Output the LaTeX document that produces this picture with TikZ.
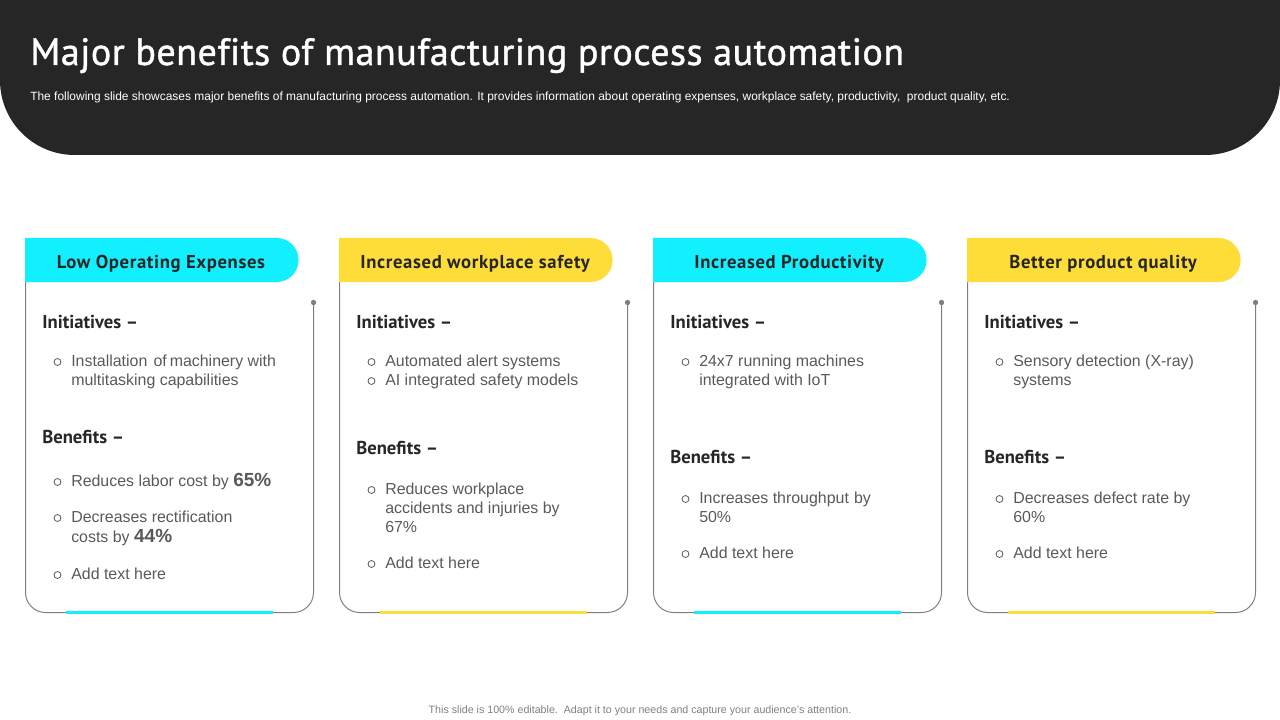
\documentclass[tikz,border=0pt]{standalone}
\usepackage{fontspec}
\setmainfont{Liberation Sans}
\newfontfamily\din{PT Sans}
\newfontfamily\dinh[LetterSpace=3.5]{PT Sans}
\newfontfamily\dinsp[LetterSpace=1.4,FakeBold=1.2,Ligatures=NoCommon]{PT Sans}
\definecolor{dark}{HTML}{262626}
\definecolor{cy}{HTML}{12F0FF}
\definecolor{yl}{HTML}{FFDD38}
\definecolor{bodyc}{HTML}{595959}
\definecolor{linec}{HTML}{7F7F7F}
\tikzset{
 x=0.75pt,y=-0.75pt,
 headtext/.style={font=\dinh\bfseries\fontsize{14}{16}\selectfont,text=dark,inner sep=0},
 subhead/.style={font=\din\bfseries\fontsize{14}{16}\selectfont,text=dark,anchor=base west,inner sep=0},
 item/.style={font=\fontsize{11.95}{14.25}\selectfont,text=bodyc,anchor=north west,inner sep=0,align=left},
 bullet/.style={circle,draw=bodyc,line width=0.6pt,inner sep=0,minimum size=5.2pt},
 outline/.style={draw=linec,line width=0.75pt},
}
% #1 name, #2 x of left edge, #3 colour, #4 title
\newcommand{\card}[4]{%
  \draw[outline] (#2+288.5,302) [rounded corners=15pt] -- (#2+288.5,612.5) -- (#2+0.5,612.5) [sharp corners] -- (#2+0.5,282);
  \fill[linec] (#2+288.5,302.5) circle[radius=2pt];
  \fill[#3] (#2+41,610.7) rectangle (#2+248,614);
  \fill[#3] (#2,238) [rounded corners=16.5pt] -- (#2+273.6,238) -- (#2+273.6,282) [sharp corners] -- (#2,282) -- cycle;
  \node[headtext] (#1h) at (#2+136,263.5) {#4};
}
% #1 name, #2 card x, #3 y of text top, #4 text
\newcommand{\itm}[4]{%
  \node[bullet] (#1b) at (#2+32.5,#3+11) {};
  \node[item] (#1) at (#2+46,#3+3.5) {#4};
}
\newcommand{\bnum}[1]{\smash{\bfseries\fontsize{14.25}{14.25}\selectfont #1}}
\begin{document}
\begin{tikzpicture}
\useasboundingbox (0,0) rectangle (1280,720);
\fill[dark] (0,0) -- (1280,0) [rounded corners=56pt] -- (1280,155) -- (0,155) [sharp corners] -- cycle;
\node[anchor=base west,inner sep=0,text=white,font=\dinsp\fontsize{28.5}{32}\selectfont] (title) at (30,65) {Major benefits of manufacturing process automation};
\node[anchor=base west,inner sep=0,text=white,font=\fontsize{8.97}{11}\selectfont] (sub) at (30,100.5) {The following slide showcases major benefits of manufacturing process automation. It provides information about operating expenses, workplace safety, productivity,\ \ product quality, etc.};
\node[anchor=base,inner sep=0,text=linec,font=\fontsize{8}{9}\selectfont] (foot) at (640,713) {This slide is 100\% editable.\ \ Adapt it to your needs and capture your audience’s attention.};

\card{a}{25}{cy}{Low Operating Expenses}
\card{b}{339}{yl}{Increased workplace safety}
\card{c}{653}{cy}{Increased Productivity}
\card{d}{967}{yl}{Better product quality}

\node[subhead] (ai) at (42,328) {Initiatives –};
\itm{a1}{25}{351}{Installation\hspace{4.6pt}of\hspace{2.2pt}machinery with\\multitasking capabilities}
\node[subhead] (ab) at (42,443) {Benefits –};
\itm{a2}{25}{471}{Reduces labor cost by \bnum{65\%}}
\itm{a3}{25}{507}{Decreases rectification\\[1pt]costs by \bnum{44\%}}
\itm{a4}{25}{564}{Add text here}

\node[subhead] (bi) at (356,328) {Initiatives –};
\itm{b1}{339}{351}{Automated alert systems}
\itm{b2}{339}{370}{AI integrated safety models}
\node[subhead] (bb) at (356,454) {Benefits –};
\itm{b3}{339}{479}{Reduces workplace\\accidents and injuries by\\67\%}
\itm{b4}{339}{553}{Add text here}

\node[subhead] (ci) at (670,328) {Initiatives –};
\itm{c1}{653}{351}{24x7 running machines\\integrated with IoT}
\node[subhead] (cb) at (670,463) {Benefits –};
\itm{c2}{653}{488}{Increases throughput\hspace{3.8pt}by\\50\%}
\itm{c3}{653}{543}{Add text here}

\node[subhead] (di) at (984,328) {Initiatives –};
\itm{d1}{967}{351}{Sensory detection (X-ray)\\systems}
\node[subhead] (db) at (984,463) {Benefits –};
\itm{d2}{967}{488}{Decreases defect rate by\\60\%}
\itm{d3}{967}{543}{Add text here}
\end{tikzpicture}
\end{document}
